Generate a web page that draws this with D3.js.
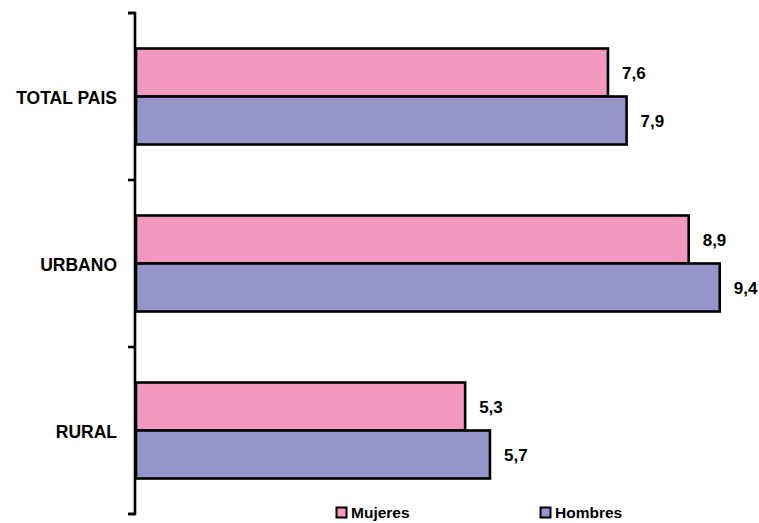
<!DOCTYPE html>
<html>
<head>
<meta charset="utf-8">
<script src="https://cdn.jsdelivr.net/npm/d3@7"></script>
<style>
  html, body { margin: 0; padding: 0; background: #fff; }
  svg text { font-family: Arial, "Liberation Sans", sans-serif; font-weight: bold; fill: #000; }
</style>
</head>
<body>
<svg id="chart" width="759" height="523"></svg>
<script>
const categories = ["TOTAL PAIS", "URBANO", "RURAL"];
const seriesNames = ["Mujeres", "Hombres"];
const mujeres = [7.6, 8.9, 5.3];
const hombres = [7.9, 9.4, 5.7];
const seriesColors = ["#F398C1", "#9595C9"];

const data = categories.map((c, i) => ({ cat: c, values: [mujeres[i], hombres[i]] }));

const svg = d3.select("#chart");
const axisX = 135;

const y0 = d3.scaleBand().domain(categories).range([13, 514]).padding(0);
const step = y0.bandwidth();
const groupH = 96;
const y1 = d3.scaleBand().domain(seriesNames).range([(step - groupH) / 2, (step + groupH) / 2]).padding(0);
const x = d3.scaleLinear().domain([0, 10]).range([axisX + 1, axisX + 1 + 621]);

// bars
const groups = svg.selectAll("g.cat").data(data).enter().append("g")
  .attr("class", "cat")
  .attr("transform", d => `translate(0,${y0(d.cat)})`);

groups.selectAll("rect").data(d => d.values.map((v, j) => ({ v, s: seriesNames[j], j })))
  .enter().append("rect")
  .attr("x", x(0))
  .attr("y", d => y1(d.s))
  .attr("width", d => x(d.v) - x(0))
  .attr("height", y1.bandwidth())
  .attr("fill", d => seriesColors[d.j])
  .attr("stroke", "#000")
  .attr("stroke-width", 2.6);

groups.selectAll("text.val").data(d => d.values.map((v, j) => ({ v, s: seriesNames[j] })))
  .enter().append("text")
  .attr("class", "val")
  .attr("x", d => x(d.v) + 14)
  .attr("y", d => y1(d.s) + y1.bandwidth() / 2 + 2)
  .attr("dominant-baseline", "middle")
  .style("font-size", "17px")
  .text(d => d3.format(".1f")(d.v).replace(".", ","));

// axis
const axis = d3.axisLeft(y0).tickSize(7).tickSizeOuter(7).tickFormat("");
const axG = svg.append("g").attr("transform", `translate(${axisX},0)`).call(axis);
axG.selectAll(".tick").remove();
const bounds = categories.map(c => y0(c)).concat([y0.range()[1]]);
axG.selectAll("line.bt").data(bounds).enter().append("line")
  .attr("class", "bt")
  .attr("x1", -7).attr("x2", 0)
  .attr("y1", d => d).attr("y2", d => d)
  .attr("stroke", "#000").attr("stroke-width", 2.6);
axG.select(".domain")
  .attr("d", `M-7,${y0.range()[0]}H0V${y0.range()[1]}H-7`)
  .attr("fill", "none").attr("stroke", "#000").attr("stroke-width", 2.6);

// category labels
svg.selectAll("text.cat").data(categories).enter().append("text")
  .attr("class", "cat")
  .attr("x", 117)
  .attr("y", d => y0(d) + step / 2 + 3)
  .attr("text-anchor", "end")
  .attr("dominant-baseline", "middle")
  .style("font-size", "17.5px")
  .text(d => d);

// legend
const legendX = [336, 540];
const leg = svg.selectAll("g.leg").data(seriesNames).enter().append("g")
  .attr("class", "leg")
  .attr("transform", (d, i) => `translate(${legendX[i]},507)`);
leg.append("rect")
  .attr("x", 0.5).attr("y", 0.5).attr("width", 10).attr("height", 10)
  .attr("fill", (d, i) => seriesColors[i])
  .attr("stroke", "#000").attr("stroke-width", 2);
leg.append("text")
  .attr("x", 15).attr("y", 6.5)
  .attr("dominant-baseline", "middle")
  .style("font-size", "15.5px")
  .text(d => d);
</script>
</body>
</html>
